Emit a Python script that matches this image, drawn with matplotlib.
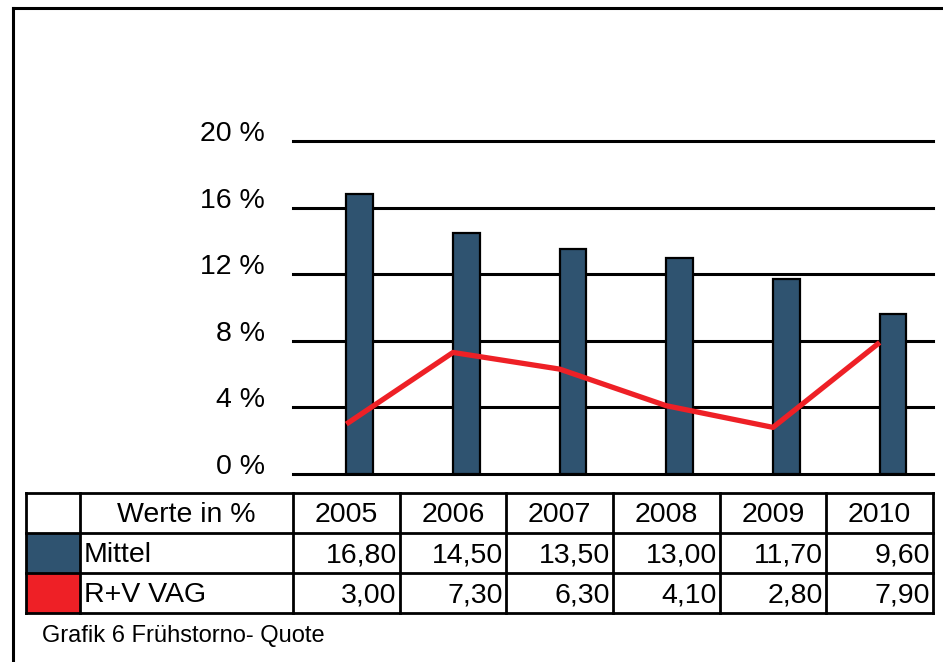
import matplotlib
matplotlib.use('Agg')
import matplotlib.pyplot as plt
from matplotlib.patches import Rectangle
import numpy as np

# ========== Daten ==========
years = ['2005', '2006', '2007', '2008', '2009', '2010']
mittel = [16.80, 14.50, 13.50, 13.00, 11.70, 9.60]
rv_vag = [3.00, 7.30, 6.30, 4.10, 2.80, 7.90]
series_names = ['Mittel', 'R+V VAG']
y_ticks = [0, 4, 8, 12, 16, 20]
header_label = 'Werte in %'
caption = 'Grafik 6 Frühstorno- Quote'

BLUE = '#2f5370'
RED = '#ee2026'

plt.rcParams['font.family'] = ['Liberation Sans', 'DejaVu Sans']

W, H = 943, 662
fig = plt.figure(figsize=(W / 100, H / 100), dpi=100)

# Plotbereich in Pixeln
px_left, px_right = 293, 933
px_zero, px_top = 474, 141
ax = fig.add_axes([px_left / W, 1 - px_zero / H,
                   (px_right - px_left) / W, (px_zero - px_top) / H])
x = np.arange(len(years))
ax.set_xlim(-0.5, len(years) - 0.5)
ax.set_ylim(0, 20)
ax.axis('off')

for t in y_ticks:
    ax.axhline(t, color='black', lw=2.2, zorder=1, clip_on=False)
    ax.text(-0.044, t, f'{t} %', transform=ax.get_yaxis_transform(),
            ha='right', va='baseline', fontsize=20.5)

ax.bar(x, mittel, width=0.25, align='edge', color=BLUE,
       edgecolor='black', linewidth=1.6, zorder=2)
ax.plot(x, rv_vag, color=RED, lw=3.8, zorder=3, solid_capstyle='butt')

# ========== Tabelle (Overlay in Pixelkoordinaten) ==========
ov = fig.add_axes([0, 0, 1, 1])
ov.set_xlim(0, W)
ov.set_ylim(H, 0)
ov.axis('off')

# Rahmen
ov.plot([13, 13], [H, 8], color='black', lw=2.2)
ov.plot([13, W], [8, 8], color='black', lw=2.2)

cat_w = (px_right - px_left) / len(years)
col_edges = [26, 80] + [px_left + cat_w * i for i in range(len(years) + 1)]
row_edges = [492.5, 532.5, 572.5, 612.5]

# Farbfelder
for r, col in enumerate([BLUE, RED]):
    ov.add_patch(Rectangle((col_edges[0], row_edges[r + 1]),
                           col_edges[1] - col_edges[0],
                           row_edges[r + 2] - row_edges[r + 1],
                           facecolor=col, edgecolor='none', zorder=1))

for xe in col_edges:
    ov.plot([xe, xe], [row_edges[0], row_edges[-1]], color='black', lw=2, zorder=2)
for ye in row_edges:
    ov.plot([col_edges[0], col_edges[-1]], [ye, ye], color='black', lw=2, zorder=2)

fs = 20.5
def row_mid(r):
    return (row_edges[r] + row_edges[r + 1]) / 2 + 3

ov.text((col_edges[1] + col_edges[2]) / 2, row_mid(0), header_label,
        ha='center', va='center', fontsize=fs)
for i, yr in enumerate(years):
    ov.text((col_edges[i + 2] + col_edges[i + 3]) / 2, row_mid(0), yr,
            ha='center', va='center', fontsize=fs)

for r, (name, vals) in enumerate(zip(series_names, [mittel, rv_vag])):
    ov.text(col_edges[1] + 4, row_mid(r + 1), name,
            ha='left', va='center', fontsize=fs)
    for i, v in enumerate(vals):
        ov.text(col_edges[i + 3] - 3, row_mid(r + 1), f'{v:.2f}'.replace('.', ','),
                ha='right', va='center', fontsize=fs)

ov.text(42, 636, caption, ha='left', va='center', fontsize=17)

fig.savefig('out.png', dpi=100)
